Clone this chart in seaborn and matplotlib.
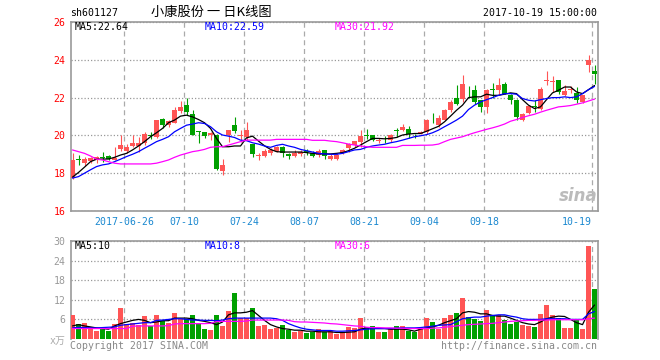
import pandas as pd
import matplotlib
matplotlib.use("Agg")
import matplotlib.pyplot as plt
import seaborn as sns

# ---------------- 데이터: sh601127 日K (2017-06-13 ~ 2017-10-19) ----------------
opens = [17.75, 18.76, 18.56, 18.65, 18.70, 18.86, 18.93, 18.72, 19.26, 19.19,
         19.44, 19.44, 19.58, 20.02, 19.93, 20.89, 20.54, 20.67, 21.30, 21.60,
         21.12, 20.23, 20.16, 20.00, 20.02, 18.12, 20.02, 20.54, 19.95, 19.90,
         19.54, 18.90, 18.91, 19.05, 19.19, 19.37, 19.02, 18.91, 19.02, 19.16,
         19.05, 18.95, 19.23, 18.77, 18.74, 19.05, 19.32, 19.49, 19.67, 20.02,
         20.02, 19.72, 19.77, 19.75, 20.28, 20.28, 20.32, 20.04, 20.10, 20.19,
         20.77, 20.54, 20.84, 21.37, 22.00, 21.90, 22.53, 22.42, 21.86, 21.50,
         22.46, 22.38, 22.70, 22.12, 21.86, 20.84, 21.16, 21.55, 21.42, 22.90,
         22.85, 22.91, 22.12, 22.38, 22.25, 21.77, 23.75, 23.40]
highs = [19.05, 18.97, 18.84, 18.88, 18.90, 19.12, 18.98, 19.37, 20.02, 19.54,
         20.00, 19.93, 20.20, 20.20, 20.84, 20.90, 20.84, 21.50, 21.82, 22.00,
         21.33, 20.25, 20.16, 20.18, 20.10, 18.74, 20.28, 20.98, 20.28, 20.72,
         19.54, 19.05, 19.26, 19.32, 19.44, 19.44, 19.09, 19.23, 19.23, 19.26,
         19.19, 19.26, 19.23, 19.00, 19.09, 19.26, 19.58, 19.70, 20.28, 20.32,
         20.02, 19.84, 19.96, 20.10, 20.37, 20.60, 20.49, 20.10, 20.25, 20.89,
         21.18, 21.10, 21.42, 21.86, 22.65, 23.18, 22.60, 22.65, 21.86, 22.47,
         22.77, 23.05, 22.82, 22.21, 21.95, 21.16, 21.60, 21.86, 22.56, 23.40,
         23.12, 22.91, 22.65, 22.60, 22.56, 22.12, 24.28, 23.70]
lows = [17.68, 18.42, 18.39, 18.53, 18.55, 18.61, 18.70, 18.68, 19.19, 19.05,
        19.37, 19.14, 19.50, 19.80, 19.85, 20.37, 20.46, 20.63, 21.16, 21.07,
        20.00, 19.58, 19.84, 19.75, 18.18, 17.91, 19.67, 20.14, 19.67, 19.75,
        18.84, 18.70, 18.88, 18.96, 19.14, 18.88, 18.77, 18.84, 18.91, 18.96,
        18.84, 18.88, 18.74, 18.70, 18.70, 19.02, 19.14, 19.40, 19.40, 19.79,
        19.72, 19.60, 19.60, 19.67, 19.93, 20.25, 19.84, 19.84, 20.05, 20.10,
        20.63, 20.46, 20.80, 21.25, 21.60, 21.77, 22.00, 21.68, 21.25, 21.19,
        22.00, 22.21, 22.18, 21.68, 20.80, 20.77, 21.12, 21.25, 21.33, 22.65,
        22.30, 22.21, 22.07, 22.24, 21.72, 21.72, 23.35, 22.74]
closes = [18.72, 18.72, 18.74, 18.79, 18.84, 18.82, 18.75, 18.82, 19.49, 19.40,
          19.61, 19.61, 20.07, 19.98, 20.81, 20.54, 20.75, 21.33, 21.50, 21.25,
          20.02, 20.19, 19.96, 20.14, 18.23, 18.44, 20.28, 20.25, 20.00, 20.28,
          19.02, 18.95, 19.19, 19.23, 19.40, 19.05, 18.91, 19.05, 19.14, 19.12,
          18.93, 19.19, 18.91, 18.91, 18.98, 19.23, 19.54, 19.70, 19.96, 19.98,
          19.75, 19.77, 19.74, 20.02, 20.23, 20.46, 20.07, 20.00, 20.20, 20.84,
          20.74, 20.90, 21.37, 21.77, 21.68, 22.70, 22.49, 21.77, 21.50, 22.42,
          22.42, 22.65, 22.21, 21.86, 20.98, 21.12, 21.54, 21.50, 22.47, 22.95,
          22.88, 22.30, 22.35, 22.45, 21.86, 22.12, 24.00, 23.26]

ma5 = [17.79, 18.04, 18.32, 18.61, 18.74, 18.75, 18.75, 18.84, 18.96, 19.05,
       19.23, 19.44, 19.67, 19.93, 20.14, 20.37, 20.67, 20.81, 21.02, 21.07,
       20.98, 20.84, 20.67, 20.37, 19.84, 19.40, 19.40, 19.44, 19.44, 19.87,
       19.96, 19.70, 19.45, 19.26, 19.14, 19.12, 19.12, 19.12, 19.12, 19.09,
       19.05, 19.02, 19.02, 19.02, 19.05, 19.09, 19.19, 19.32, 19.49, 19.67,
       19.84, 19.84, 19.82, 19.84, 19.89, 20.02, 20.07, 20.10, 20.10, 20.22,
       20.35, 20.48, 20.72, 21.02, 21.33, 21.60, 22.00, 22.04, 22.04, 22.18,
       22.12, 22.12, 22.18, 22.25, 22.21, 21.89, 21.60, 21.42, 21.51, 21.89,
       22.25, 22.39, 22.56, 22.56, 22.30, 22.21, 22.42, 22.64]
ma10 = [17.74, 17.82, 18.00, 18.18, 18.35, 18.44, 18.49, 18.61, 18.74, 18.88,
        19.00, 19.14, 19.32, 19.49, 19.67, 19.79, 19.93, 20.19, 20.37, 20.54,
        20.60, 20.67, 20.63, 20.46, 20.19, 20.02, 19.96, 19.89, 19.75, 19.72,
        19.61, 19.54, 19.44, 19.37, 19.47, 19.53, 19.44, 19.37, 19.26, 19.19,
        19.12, 19.05, 19.02, 19.00, 19.00, 19.05, 19.14, 19.23, 19.26, 19.37,
        19.44, 19.49, 19.53, 19.61, 19.67, 19.75, 19.84, 19.93, 19.98, 20.04,
        20.14, 20.28, 20.46, 20.63, 20.81, 21.02, 21.37, 21.60, 21.77, 21.89,
        22.00, 22.12, 22.21, 22.21, 22.18, 21.95, 21.86, 21.82, 21.89, 21.95,
        22.00, 22.00, 22.04, 22.00, 22.04, 22.21, 22.42, 22.59]
ma30 = [19.23, 19.14, 19.05, 18.91, 18.74, 18.70, 18.61, 18.53, 18.49, 18.49,
        18.49, 18.49, 18.49, 18.49, 18.53, 18.61, 18.70, 18.84, 18.96, 19.05,
        19.14, 19.19, 19.26, 19.37, 19.40, 19.40, 19.49, 19.58, 19.67, 19.75,
        19.75, 19.75, 19.75, 19.75, 19.79, 19.79, 19.79, 19.79, 19.79, 19.79,
        19.74, 19.74, 19.74, 19.70, 19.67, 19.61, 19.54, 19.49, 19.44, 19.40,
        19.37, 19.37, 19.37, 19.37, 19.37, 19.47, 19.47, 19.47, 19.48, 19.48,
        19.49, 19.54, 19.67, 19.79, 19.86, 19.93, 20.04, 20.14, 20.23, 20.32,
        20.40, 20.49, 20.60, 20.75, 20.84, 20.95, 21.04, 21.12, 21.23, 21.33,
        21.42, 21.51, 21.54, 21.58, 21.65, 21.72, 21.82, 21.92]

# 成交量 (万手)
volume = [7.4, 4.7, 4.9, 3.7, 2.4, 3.4, 2.4, 4.7, 9.5, 4.7,
          5.0, 4.2, 7.1, 4.0, 7.4, 5.4, 5.0, 8.0, 6.2, 6.2,
          7.4, 5.0, 3.0, 2.7, 7.2, 3.9, 8.7, 14.0, 6.4, 6.4,
          9.5, 3.9, 4.2, 3.0, 3.4, 4.4, 2.7, 2.0, 2.4, 1.7,
          2.2, 3.0, 2.2, 2.4, 1.4, 2.0, 3.7, 3.4, 6.5, 3.6,
          4.0, 2.2, 2.0, 3.2, 3.9, 4.0, 2.6, 2.2, 3.2, 6.5,
          5.2, 3.2, 6.5, 7.4, 8.0, 12.5, 6.8, 6.2, 5.4, 8.9,
          7.2, 7.4, 5.9, 4.7, 5.2, 4.4, 4.0, 3.8, 7.7, 10.4,
          7.4, 6.5, 3.4, 3.4, 5.9, 3.2, 28.4, 15.2]
vol_ma5 = [4.0, 4.4, 4.0, 3.7, 3.4, 3.2, 3.0, 4.0, 4.7, 5.2,
           5.7, 6.0, 5.7, 5.0, 5.2, 5.6, 5.6, 6.4, 6.4, 6.4,
           6.2, 5.7, 5.4, 5.0, 4.4, 5.2, 7.4, 8.0, 8.0, 8.2,
           8.7, 7.2, 5.7, 4.4, 3.7, 3.2, 3.0, 2.7, 2.7, 2.4,
           2.4, 2.2, 2.2, 2.2, 2.0, 2.0, 2.1, 2.2, 3.0, 3.4,
           3.3, 3.2, 3.2, 3.0, 3.0, 3.0, 2.8, 2.4, 3.0, 3.4,
           3.7, 4.2, 5.0, 5.6, 6.2, 8.0, 8.4, 8.2, 7.7, 7.7,
           7.2, 7.0, 7.0, 6.4, 5.7, 5.0, 4.6, 4.4, 5.2, 6.2,
           6.7, 7.0, 6.9, 6.0, 5.0, 4.4, 8.2, 10.4]
vol_ma10 = [3.4, 3.6, 3.5, 3.4, 3.4, 3.5, 3.6, 3.7, 4.2, 4.4,
            4.6, 4.8, 5.0, 5.0, 5.7, 5.8, 6.0, 6.2, 6.2, 6.0,
            5.8, 5.8, 5.7, 5.7, 5.6, 5.8, 6.2, 6.4, 6.4, 6.4,
            6.4, 6.4, 6.4, 6.4, 6.2, 5.7, 4.7, 4.0, 3.4, 3.0,
            2.8, 2.6, 2.6, 2.6, 2.4, 2.4, 2.5, 2.6, 2.8, 3.0,
            3.1, 3.2, 3.2, 3.2, 3.3, 3.4, 3.4, 3.4, 3.5, 3.7,
            3.9, 4.2, 4.3, 4.4, 5.3, 6.2, 6.5, 6.7, 6.7, 7.0,
            7.2, 7.4, 7.4, 7.0, 6.7, 6.2, 6.0, 6.0, 6.0, 6.2,
            6.2, 6.2, 6.2, 6.0, 6.0, 6.0, 7.7, 8.4]
vol_ma30 = [3.2, 3.2, 3.2, 3.2, 3.2, 3.2, 3.2, 3.2, 3.2, 3.2,
            3.9, 4.0, 4.0, 4.0, 4.0, 4.0, 4.1, 4.6, 4.7, 4.7,
            4.7, 4.7, 4.7, 4.8, 5.3, 5.4, 5.4, 5.4, 5.4, 5.5,
            5.8, 5.8, 5.8, 5.8, 5.8, 5.8, 5.7, 5.3, 5.2, 5.2,
            5.1, 5.0, 4.9, 4.7, 4.6, 4.4, 4.2, 4.0, 3.9, 3.6,
            3.5, 3.5, 3.4, 3.4, 3.3, 3.3, 3.2, 3.2, 3.2, 3.2,
            3.3, 3.4, 3.6, 3.8, 4.0, 4.2, 4.4, 4.5, 4.6, 4.7,
            4.8, 5.0, 5.2, 5.4, 5.5, 5.6, 5.7, 5.7, 5.8, 5.8,
            5.9, 5.9, 5.9, 5.9, 5.9, 5.9, 6.2, 6.4]

price_ticks = [16, 18, 20, 22, 24, 26]
vol_ticks = [6, 12, 18, 24, 30]
tick_dates = ["2017-06-26", "2017-07-10", "2017-07-24", "2017-08-07",
              "2017-08-21", "2017-09-04", "2017-09-18", "2017-10-19"]
holidays = ["2017-10-02", "2017-10-03", "2017-10-04", "2017-10-05", "2017-10-06"]

ma_labels = ["MA5:22.64", "MA10:22.59", "MA30:21.92"]
vol_ma_labels = ["MA5:10", "MA10:8", "MA30:6"]

# ---------------- 전처리 ----------------
dates = pd.bdate_range("2017-06-13", "2017-10-19")
dates = dates[~dates.isin(pd.to_datetime(holidays))]

df = pd.DataFrame({"date": dates, "open": opens, "high": highs, "low": lows,
                   "close": closes, "ma5": ma5, "ma10": ma10, "ma30": ma30,
                   "volume": volume, "vma5": vol_ma5, "vma10": vol_ma10,
                   "vma30": vol_ma30})
df["idx"] = range(len(df))
df["dir"] = ["up" if c >= o else "down" for o, c in zip(df["open"], df["close"])]

RED, GREEN = "#ff5555", "#00a000"
df["color"] = df["dir"].map({"up": RED, "down": GREEN})

tick_idx = [df.index[df["date"] == pd.Timestamp(d)][0] for d in tick_dates]
tick_pos = [i - 0.4 for i in tick_idx]
tick_lab = [tick_dates[0]] + [d[5:] for d in tick_dates[1:]]

# ---------------- 그림 ----------------
sns.set_style("white")
plt.rcParams["font.family"] = ["DejaVu Sans Mono", "Noto Sans CJK SC"]

W, H = 660, 360
fig = plt.figure(figsize=(W / 100, H / 100), dpi=100)


def box(x0, y0, x1, y1):
    return [x0 / W, 1 - y1 / H, (x1 - x0) / W, (y1 - y0) / H]


ax = fig.add_axes(box(71, 22, 598, 211))
axv = fig.add_axes(box(71, 241, 598, 339))

XLIM = (-0.25, 87.58)
FS = 7.1
GRID = "#aaaaaa"

# K线
body_lo = df[["open", "close"]].min(axis=1)
body_h = (df["close"] - df["open"]).abs().clip(lower=0.04)
ax.vlines(df["idx"], df["low"], df["high"], colors=df["color"], linewidth=0.8, zorder=2)
ax.bar(df["idx"], body_h, bottom=body_lo, width=0.82, color=df["color"], linewidth=0, zorder=3)

sns.lineplot(x=df["idx"], y=df["ma5"], ax=ax, color="black", linewidth=0.9, zorder=4)
sns.lineplot(x=df["idx"], y=df["ma10"], ax=ax, color="#0000ff", linewidth=0.9, zorder=4)
sns.lineplot(x=df["idx"], y=df["ma30"], ax=ax, color="#ff00ff", linewidth=0.9, zorder=4)

# 成交量
sns.barplot(data=df, x="idx", y="volume", hue="dir", palette={"up": RED, "down": GREEN},
            native_scale=True, dodge=False, width=0.82, saturation=1, linewidth=0,
            legend=False, ax=axv, zorder=3)
sns.lineplot(x=df["idx"], y=df["vma5"], ax=axv, color="black", linewidth=0.9, zorder=4)
sns.lineplot(x=df["idx"], y=df["vma10"], ax=axv, color="#0000ff", linewidth=0.9, zorder=4)
sns.lineplot(x=df["idx"], y=df["vma30"], ax=axv, color="#ff00ff", linewidth=0.9, zorder=4)

for a in (ax, axv):
    a.set_xlim(*XLIM)
    a.set_xlabel("")
    a.set_ylabel("")
    a.set_xticks(tick_pos)
    a.grid(axis="x", color=GRID, linestyle=(0, (4, 3)), linewidth=0.9)
    a.grid(axis="y", color="#999999", linestyle=(0, (1, 1.6)), linewidth=0.9)
    a.tick_params(length=0)
    a.set_axisbelow(True)
    for s in a.spines.values():
        s.set_color("#999999")
        s.set_linewidth(1.2)

ax.set_ylim(16, 26)
ax.set_yticks(price_ticks)
ax.set_yticklabels([str(t) for t in price_ticks], color="#ff0000", fontsize=FS)
ax.set_xticklabels(tick_lab, color="#1a88d0", fontsize=FS)
ax.tick_params(axis="x", pad=4)
ax.tick_params(axis="y", pad=4)
ax.get_xticklabels()[-1].set_ha("right")

axv.set_ylim(0, 30)
axv.set_yticks(vol_ticks)
axv.set_yticklabels([str(t) for t in vol_ticks], color="#999999", fontsize=FS)
axv.set_xticklabels([])
axv.tick_params(axis="y", pad=4)
axv.spines["bottom"].set_visible(False)


# 文字
def put(px, py, s, size=FS, **kw):
    fig.text(px / W, 1 - py / H, s, va="center", fontsize=size, **kw)


put(70, 12.5, "sh601127", color="black")
put(211, 12.5, "小康股份 一 日K线图", size=9.5, color="black", ha="center",
    family=["Noto Sans CJK SC", "DejaVu Sans"])
put(597, 12.5, "2017-10-19 15:00:00", color="black", ha="right")

for px, s, c in zip([75, 205, 335], ma_labels, ["black", "#0000ff", "#ff00ff"]):
    put(px, 27, s, color=c)
for px, s, c in zip([75, 205, 335], vol_ma_labels, ["black", "#0000ff", "#ff00ff"]):
    put(px, 246, s, color=c)

put(66, 341, "x万", color="#aaaaaa", ha="right", family=["DejaVu Sans Mono", "Noto Sans CJK SC"])
put(70, 346, "Copyright 2017 SINA.COM", color="#888888")
put(597, 346, "http://finance.sina.com.cn", color="#888888", ha="right")
put(578, 196, "sina", size=12, color="#bbbbbb", ha="center",
    family=["DejaVu Sans"], style="italic", weight="bold")

fig.savefig("out.png", dpi=100, facecolor="white")
